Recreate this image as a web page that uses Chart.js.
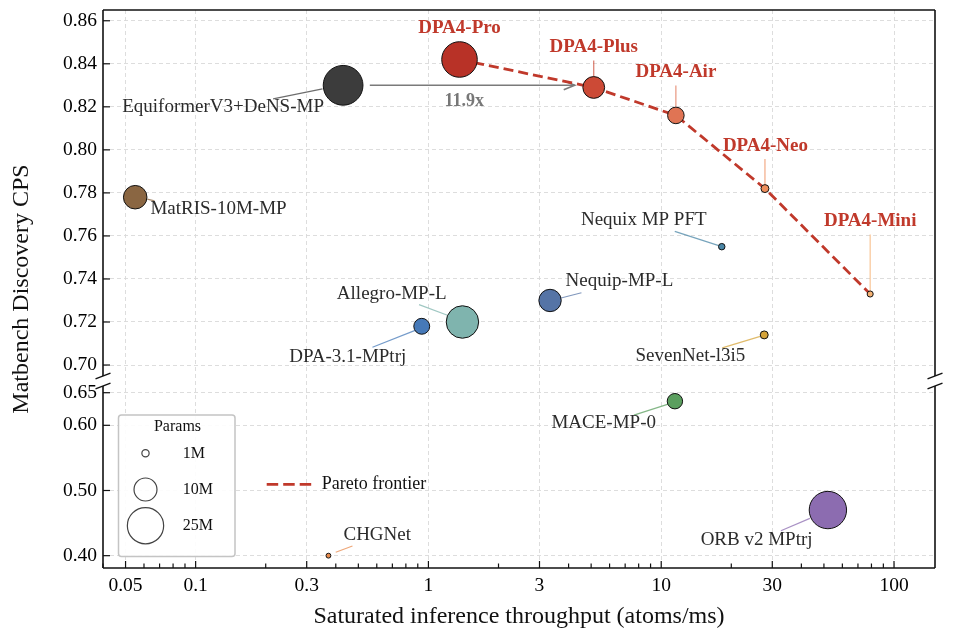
<!DOCTYPE html>
<html>
<head>
<meta charset="utf-8">
<script src="https://cdn.jsdelivr.net/npm/chart.js@4.4.1/dist/chart.umd.min.js"></script>
<style>
  html, body { margin: 0; padding: 0; background: #fff; }
  #wrap { width: 958px; height: 636px; }
</style>
</head>
<body>
<div id="wrap"><canvas id="chart" width="958" height="636"></canvas></div>
<script>
// DATA
const models = [
  "DPA4-Pro", "DPA4-Plus", "DPA4-Air", "DPA4-Neo", "DPA4-Mini",
  "EquiformerV3+DeNS-MP", "MatRIS-10M-MP", "Nequix MP PFT", "Nequip-MP-L",
  "Allegro-MP-L", "DPA-3.1-MPtrj", "SevenNet-l3i5", "MACE-MP-0",
  "ORB v2 MPtrj", "CHGNet"
];
const throughput = [1.36, 5.13, 11.56, 27.9, 79, 0.43, 0.055, 18.2, 3.33, 1.40, 0.936, 27.7, 11.45, 52, 0.372];
const cps = [0.842, 0.829, 0.816, 0.782, 0.733, 0.830, 0.778, 0.755, 0.730, 0.720, 0.718, 0.714, 0.637, 0.470, 0.400];
const paramsM = [24, 9, 5.2, 1.2, 0.7, 30, 10.5, 0.8, 9.5, 20, 4.8, 1.2, 4.5, 26.5, 0.45];
const paretoModels = ["DPA4-Pro", "DPA4-Plus", "DPA4-Air", "DPA4-Neo", "DPA4-Mini"];
const xTicks = [0.05, 0.1, 0.3, 1, 3, 10, 30, 100];
const yTopTicks = [0.70, 0.72, 0.74, 0.76, 0.78, 0.80, 0.82, 0.84, 0.86];
const yBottomTicks = [0.40, 0.50, 0.60, 0.65];
const legendParams = [1, 10, 25];
const speedupFrom = "EquiformerV3+DeNS-MP";
const speedupTo = "DPA4-Plus";

// STYLE
const FONT = "'Liberation Serif', 'Times New Roman', serif";
const RED = "#c0392b";
const pointColors = [
  "#b83227", "#cc4a36", "#e07454", "#ee8e5c", "#f5b273",
  "#3c3c3c", "#8a6642", "#4a86a6", "#5574a6",
  "#7fb4ae", "#4679b8", "#d5a43a", "#5b9f5f",
  "#8c6cb0", "#e88a4c"
];
const sizeScale = 3.63; // px radius per sqrt(M params)
const BREAK = 0.69;

// label placement, px relative to the point
const labelLayout = {
  "DPA4-Pro": { dx: 0, dy: -31, bold: true },
  "DPA4-Plus": { dx: 0, dy: -40, bold: true, leader: [0, -27, 0, -11] },
  "DPA4-Air": { dx: 0, dy: -43, bold: true, leader: [0, -30, 0, -8] },
  "DPA4-Neo": { dx: 0.5, dy: -42.5, bold: true, leader: [0, -29.5, 0, -4] },
  "DPA4-Mini": { dx: 0, dy: -72.5, bold: true, leader: [0, -59.5, 0, -3] },
  "EquiformerV3+DeNS-MP": { dx: -120, dy: 22, leader: [-70, 13.6, -20.6, 3.6] },
  "MatRIS-10M-MP": { dx: 83.3, dy: 12, leader: [12, 2, 19.3, 3.7] },
  "Nequix MP PFT": { dx: -78, dy: -26.3, leader: [-47, -15.3, -3, -1] },
  "Nequip-MP-L": { dx: 69.4, dy: -19, leader: [11, -2.5, 31.4, -7.7] },
  "Allegro-MP-L": { dx: -70.7, dy: -28.4, leader: [-43.4, -17.4, -15, -6.7] },
  "DPA-3.1-MPtrj": { dx: -74, dy: 30.3, leader: [-49.3, 21, -5.3, 3.6] },
  "SevenNet-l3i5": { dx: -73.8, dy: 21.3, leader: [-42, 13, -4, 1.5] },
  "MACE-MP-0": { dx: -71.2, dy: 22.3, leader: [-41, 14, -6.7, 3] },
  "ORB v2 MPtrj": { dx: -71.3, dy: 30, leader: [-47, 20.7, -18, 8.3] },
  "CHGNet": { dx: 48.8, dy: -20.7, leader: [7.3, -3.4, 24, -9.7] }
};

// build bubble datasets (top panel / bottom panel)
const pointRefs = [];
function bubbleData(top) {
  const out = { data: [], colors: [] };
  models.forEach((m, k) => {
    if ((cps[k] > BREAK) !== top) return;
    pointRefs[k] = { ds: top ? 1 : 2, i: out.data.length };
    out.data.push({ x: throughput[k], y: cps[k], r: sizeScale * Math.sqrt(paramsM[k]) });
    out.colors.push(pointColors[k]);
  });
  return out;
}
const topSet = bubbleData(true);
const botSet = bubbleData(false);
const paretoData = paretoModels.map((m) => {
  const k = models.indexOf(m);
  return { x: throughput[k], y: cps[k] };
});

function pos(chart, name) {
  const ref = pointRefs[models.indexOf(name)];
  const el = chart.getDatasetMeta(ref.ds).data[ref.i];
  return { x: el.x, y: el.y };
}

function line(ctx, x1, y1, x2, y2) {
  ctx.beginPath();
  ctx.moveTo(x1, y1);
  ctx.lineTo(x2, y2);
  ctx.stroke();
}

const decorPlugin = {
  id: "decor",
  beforeDatasetsDraw(chart) {
    const ctx = chart.ctx;
    ctx.save();
    // leader lines
    models.forEach((m, k) => {
      const lay = labelLayout[m];
      if (!lay.leader) return;
      const p = pos(chart, m);
      ctx.strokeStyle = pointColors[k];
      ctx.globalAlpha = 0.75;
      ctx.lineWidth = 1.2;
      line(ctx, p.x + lay.leader[0], p.y + lay.leader[1], p.x + lay.leader[2], p.y + lay.leader[3]);
    });
    ctx.globalAlpha = 1;
    // speed-up arrow
    const a = pos(chart, speedupFrom);
    const b = pos(chart, speedupTo);
    const x1 = a.x + 26.7, x2 = b.x - 19, y = a.y;
    ctx.strokeStyle = "#7a7a7a";
    ctx.lineWidth = 1.6;
    line(ctx, x1, y, x2, y);
    ctx.beginPath();
    ctx.moveTo(x2 - 11, y - 4.5);
    ctx.lineTo(x2, y);
    ctx.lineTo(x2 - 11, y + 4.5);
    ctx.stroke();
    ctx.restore();
  },
  afterDatasetsDraw(chart) {
    const ctx = chart.ctx;
    const { left: L, right: R, top: T, bottom: B } = chart.chartArea;
    const yTop = chart.scales.yTop, yBot = chart.scales.yBot, x = chart.scales.x;
    ctx.save();

    // speed-up text
    const a = pos(chart, speedupFrom);
    const b = pos(chart, speedupTo);
    const k1 = models.indexOf(speedupFrom), k2 = models.indexOf(speedupTo);
    const speed = (throughput[k2] / throughput[k1]).toFixed(1) + "x";
    ctx.font = "bold 18px " + FONT;
    ctx.fillStyle = "#777777";
    ctx.textAlign = "center";
    ctx.textBaseline = "middle";
    ctx.fillText(speed, (a.x + 26.7 + b.x - 19) / 2 - 8, a.y + 16.3);

    // point labels
    models.forEach((m) => {
      const lay = labelLayout[m];
      const p = pos(chart, m);
      ctx.font = (lay.bold ? "bold " : "") + "19px " + FONT;
      ctx.fillStyle = lay.bold ? RED : "#2b2b2b";
      ctx.fillText(m, p.x + lay.dx, p.y + lay.dy);
    });

    // spines with break marks
    ctx.strokeStyle = "#111";
    ctx.lineWidth = 1.6;
    line(ctx, L, T, R, T);
    line(ctx, L, B, R, B);
    [L, R].forEach((sx) => {
      line(ctx, sx, T, sx, yTop.bottom);
      line(ctx, sx, yBot.top, sx, B);
      ctx.lineWidth = 1.4;
      line(ctx, sx - 7.5, yTop.bottom + 2.8, sx + 7.5, yTop.bottom - 2.8);
      line(ctx, sx - 7.5, yBot.top + 2.8, sx + 7.5, yBot.top - 2.8);
      ctx.lineWidth = 1.6;
    });

    // inward ticks
    ctx.lineWidth = 1.2;
    yTopTicks.forEach((v) => { const py = yTop.getPixelForValue(v); line(ctx, L, py, L + 7, py); });
    yBottomTicks.forEach((v) => { const py = yBot.getPixelForValue(v); line(ctx, L, py, L + 7, py); });
    xTicks.forEach((v) => { const px = x.getPixelForValue(v); line(ctx, px, B, px, B - 7); });
    [0.01, 0.1, 1, 10, 100].forEach((d) => {
      for (let m = 2; m <= 9; m++) {
        const v = m * d;
        if (v < x.min || v > x.max || xTicks.some((t) => Math.abs(t - v) < 1e-9)) continue;
        const px = x.getPixelForValue(v);
        line(ctx, px, B, px, B - 4.5);
      }
    });

    // size legend
    ctx.fillStyle = "rgba(255,255,255,0.92)";
    ctx.strokeStyle = "#c4c4c4";
    ctx.lineWidth = 1.5;
    ctx.beginPath();
    ctx.roundRect(118.5, 415, 116.5, 141.5, 3);
    ctx.fill();
    ctx.stroke();
    ctx.fillStyle = "#111";
    ctx.font = "16px " + FONT;
    ctx.textAlign = "center";
    ctx.fillText("Params", 177.5, 427);
    ctx.strokeStyle = "#444";
    ctx.lineWidth = 1.2;
    legendParams.forEach((pm, i) => {
      const cy = 453.3 + i * 36.2;
      ctx.beginPath();
      ctx.arc(145.5, cy, sizeScale * Math.sqrt(pm), 0, Math.PI * 2);
      ctx.stroke();
      ctx.textAlign = "left";
      ctx.fillText(pm + "M", 182.7, cy);
    });

    // pareto legend
    ctx.strokeStyle = RED;
    ctx.lineWidth = 2.8;
    ctx.setLineDash([11.5, 5]);
    line(ctx, 266.7, 484.3, 311.7, 484.3);
    ctx.setLineDash([]);
    ctx.fillStyle = "#111";
    ctx.font = "18px " + FONT;
    ctx.textAlign = "left";
    ctx.fillText("Pareto frontier", 321.7, 484.5);

    // y title
    ctx.save();
    ctx.translate(22, (T + B) / 2);
    ctx.rotate(-Math.PI / 2);
    ctx.font = "24px " + FONT;
    ctx.textAlign = "center";
    ctx.fillStyle = "#111";
    ctx.fillText("Matbench Discovery CPS", 0, 0);
    ctx.restore();

    ctx.restore();
  }
};

const gridOpts = { color: "#d9d9d9", lineWidth: 0.9, drawTicks: false };
const tickFont = { family: FONT, size: 19.5 };
function fixWidth(s) { s.width = 103; s.paddingTop = 0; s.paddingBottom = 0; }
const yTickOpts = { font: tickFont, color: "#000", padding: 6, autoSkip: false, callback: (v) => v.toFixed(2) };

new Chart(document.getElementById("chart"), {
  data: {
    datasets: [
      {
        type: "line",
        label: "Pareto frontier",
        data: paretoData,
        yAxisID: "yTop",
        borderColor: RED,
        borderWidth: 2.8,
        borderDash: [10, 5],
        pointRadius: 0,
        fill: false,
        order: 3
      },
      {
        type: "bubble",
        data: topSet.data,
        yAxisID: "yTop",
        backgroundColor: topSet.colors,
        borderColor: "#111",
        borderWidth: 1,
        order: 1
      },
      {
        type: "bubble",
        data: botSet.data,
        yAxisID: "yBot",
        backgroundColor: botSet.colors,
        borderColor: "#111",
        borderWidth: 1,
        order: 1
      }
    ]
  },
  options: {
    responsive: false,
    animation: false,
    layout: { autoPadding: false, padding: { top: 10, right: 23, left: 0, bottom: 0 } },
    plugins: { legend: { display: false }, tooltip: { enabled: false } },
    scales: {
      x: {
        type: "logarithmic",
        position: "bottom",
        min: 0.04,
        max: 150,
        afterBuildTicks: (s) => { s.ticks = xTicks.map((v) => ({ value: v })); },
        afterFit: (s) => { s.height = 68; s.paddingLeft = 0; s.paddingRight = 0; },
        ticks: {
          font: tickFont, color: "#000", padding: 6, autoSkip: false, maxRotation: 0,
          callback: (v) => String(v)
        },
        grid: gridOpts,
        border: { display: false, dash: [4, 3] },
        title: {
          display: true,
          text: "Saturated inference throughput (atoms/ms)",
          font: { family: FONT, size: 24 },
          color: "#111",
          padding: { top: 0, bottom: 4.6 }
        }
      },
      // left boxes are stacked in reverse config order: bottom panel first
      yBot: {
        type: "linear",
        position: "left",
        stack: "cps",
        stackWeight: 182,
        min: 0.3811,
        max: 0.6603,
        afterBuildTicks: (s) => { s.ticks = yBottomTicks.map((v) => ({ value: v })); },
        afterFit: fixWidth,
        ticks: yTickOpts,
        grid: gridOpts,
        border: { display: false, dash: [4, 3] }
      },
      yGap: {
        type: "linear",
        position: "left",
        stack: "cps",
        stackWeight: 10,
        min: 0,
        max: 1,
        afterFit: fixWidth,
        ticks: { display: false },
        grid: { display: false },
        border: { display: false }
      },
      yTop: {
        type: "linear",
        position: "left",
        stack: "cps",
        stackWeight: 366,
        min: 0.6949,
        max: 0.865,
        afterBuildTicks: (s) => { s.ticks = yTopTicks.map((v) => ({ value: v })); },
        afterFit: fixWidth,
        ticks: yTickOpts,
        grid: gridOpts,
        border: { display: false, dash: [4, 3] }
      }
    }
  },
  plugins: [decorPlugin]
});
</script>
</body>
</html>
